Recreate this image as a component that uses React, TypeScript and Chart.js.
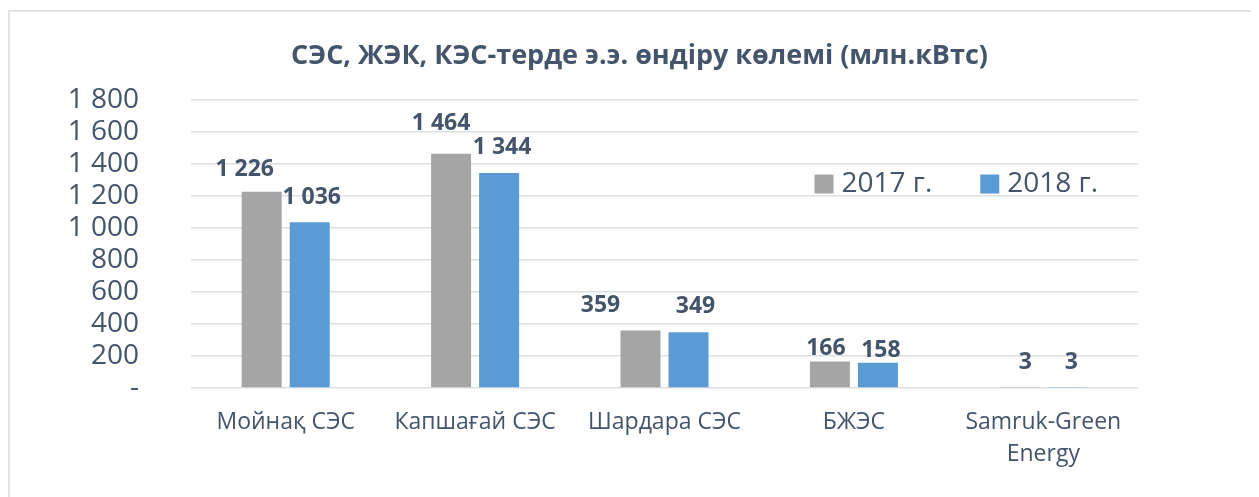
import React, { useEffect, useRef } from 'react';
import { Chart, registerables } from 'chart.js';

Chart.register(...registerables);

const titleText = 'СЭС, ЖЭК, КЭС-терде э.э. өндіру көлемі (млн.кВтс)';
const categories: (string | string[])[] = ['Мойнақ СЭС', 'Капшағай СЭС', 'Шардара СЭС', 'БЖЭС', ['Samruk-Green', 'Energy']];
const seriesNames = ['2017 г.', '2018 г.'];
const values2017 = [1226, 1464, 359, 166, 3];
const values2018 = [1036, 1344, 349, 158, 3];
const yMax = 1800;
const yStep = 200;

// label nudges (dx, dy of label centre relative to bar top centre), styling only
const labelNudge2017 = [[-17, -22], [-10, -30], [-40, -25], [-4, -13], [6, -25]];
const labelNudge2018 = [[2, -25], [3, -26], [7, -26], [3, -12], [4, -25]];

const FONT = '"Open Sans", "Noto Sans", sans-serif';
const TEXT = '#44546a';
const GRAY = '#a5a5a5';
const BLUE = '#5b9bd5';
const GRID = '#dcdfe4';

const fmt = (v: number) => (v === 0 ? '-' : String(Math.round(v)).replace(/\B(?=(\d{3})+(?!\d))/g, ' '));

const dataLabelPlugin = {
  id: 'barValueLabels',
  afterDatasetsDraw(chart: any) {
    const { ctx } = chart;
    const nudges = [labelNudge2017, labelNudge2018];
    ctx.save();
    ctx.font = `bold 23px ${FONT}`;
    ctx.fillStyle = TEXT;
    ctx.textAlign = 'center';
    ctx.textBaseline = 'middle';
    chart.data.datasets.forEach((ds: any, di: number) => {
      const meta = chart.getDatasetMeta(di);
      meta.data.forEach((el: any, i: number) => {
        const [dx, dy] = nudges[di][i] || [0, -25];
        ctx.fillText(fmt(ds.data[i]), el.x + dx, el.y + dy);
      });
    });
    ctx.restore();
  },
};

const insideLegendPlugin = {
  id: 'insideLegend',
  afterDraw(chart: any) {
    const { ctx, chartArea } = chart;
    ctx.save();
    ctx.font = `28px ${FONT}`;
    const box = 19;
    const gap = 8;
    const itemGap = 48;
    const items = chart.data.datasets.map((ds: any) => ({
      text: ds.label as string,
      color: ds.backgroundColor as string,
      w: ctx.measureText(ds.label).width,
    }));
    const total = items.reduce((s: number, it: any) => s + box + gap + it.w, 0) + itemGap * (items.length - 1);
    let x = chartArea.right - 40 - total;
    const cy = chartArea.top + 84;
    for (const it of items) {
      ctx.fillStyle = it.color;
      ctx.fillRect(x, cy - box / 2, box, box);
      x += box + gap;
      ctx.fillStyle = TEXT;
      ctx.textAlign = 'left';
      ctx.textBaseline = 'middle';
      ctx.fillText(it.text, x, cy);
      x += it.w + itemGap;
    }
    ctx.restore();
  },
};

export default function App() {
  const ref = useRef<HTMLCanvasElement>(null);

  useEffect(() => {
    document.documentElement.style.overflow = 'hidden';
    const chart = new Chart(ref.current as HTMLCanvasElement, {
      type: 'bar',
      data: {
        labels: categories as any,
        datasets: [
          { label: seriesNames[0], data: values2017, backgroundColor: GRAY, categoryPercentage: 0.507, barPercentage: 0.833 },
          { label: seriesNames[1], data: values2018, backgroundColor: BLUE, categoryPercentage: 0.507, barPercentage: 0.833 },
        ],
      },
      options: {
        responsive: false,
        animation: false,
        devicePixelRatio: 1,
        layout: { padding: { left: 52, right: 40, top: 0, bottom: 9 } },
        plugins: {
          legend: { display: false },
          tooltip: { enabled: false },
          title: {
            display: true,
            text: titleText,
            color: TEXT,
            font: { family: FONT, size: 27, weight: 'bold', lineHeight: 1.2 },
            padding: { top: 32, bottom: 27.6 },
          },
        },
        scales: {
          x: {
            grid: { display: false },
            border: { display: false },
            ticks: {
              color: TEXT,
              font: { family: FONT, size: 23, lineHeight: 32 / 23 },
              padding: 10,
              maxRotation: 0,
              autoSkip: false,
            },
            afterFit(scale: any) {
              scale.height = 100;
            },
          },
          y: {
            min: 0,
            max: yMax,
            grid: { color: GRID, lineWidth: 1.5, drawTicks: false },
            border: { display: false },
            ticks: {
              stepSize: yStep,
              autoSkip: false,
              color: TEXT,
              font: { family: FONT, size: 28, lineHeight: 1 },
              padding: 52,
              callback: (v: any) => fmt(Number(v)),
            },
            afterFit(scale: any) {
              scale.width = 131;
            },
          },
          yRight: {
            type: 'linear',
            position: 'right',
            display: true,
            min: 0,
            max: yMax,
            grid: { display: false, drawTicks: false },
            border: { display: false },
            ticks: { display: false },
            afterFit(scale: any) {
              scale.width = 81;
            },
          },
        },
      },
      plugins: [dataLabelPlugin, insideLegendPlugin],
    });
    return () => chart.destroy();
  }, []);

  return (
    <div style={{ position: 'relative', width: 1251, height: 489 }}>
      <canvas ref={ref} width={1251} height={489} style={{ position: 'absolute', left: 0, top: 0 }} />
      <div
        style={{
          position: 'absolute',
          left: 0,
          top: 2,
          right: 0,
          bottom: 0,
          borderTop: '2px solid #e1e4e9',
          borderLeft: '2px solid #e1e4e9',
          pointerEvents: 'none',
        }}
      />
    </div>
  );
}
